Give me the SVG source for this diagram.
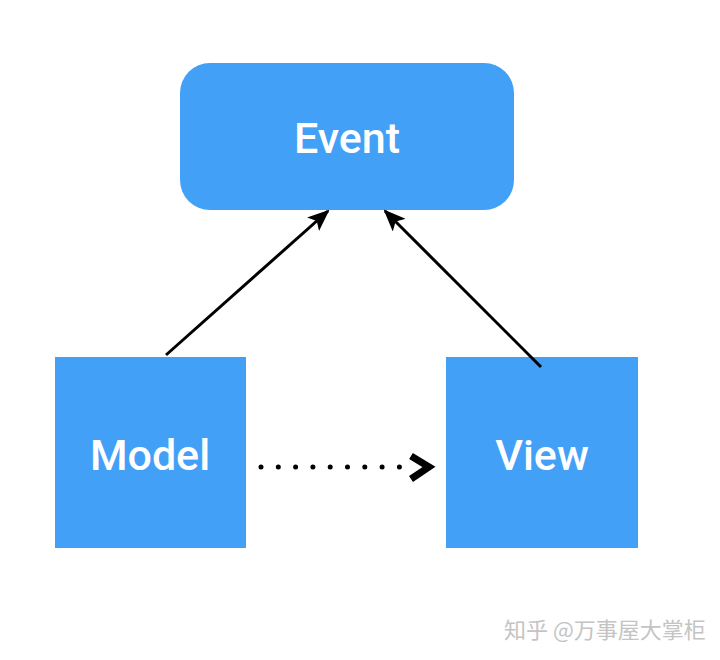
<svg xmlns="http://www.w3.org/2000/svg" width="720" height="660" viewBox="0 0 720 660">
<style>
.node{fill:#42a0f6}
.lbl{fill:#ffffff;font-family:Roboto,"Liberation Sans",Arial,sans-serif;font-weight:500;font-size:43px;text-anchor:middle}
.edge{stroke:#000;stroke-width:3;fill:none}
.wm{fill:#c4c4c4;font-family:"Noto Sans CJK SC",sans-serif;font-size:22px}
</style>
<defs>
<marker id="ah" markerWidth="22" markerHeight="18" refX="20" refY="9" orient="auto" markerUnits="userSpaceOnUse" viewBox="0 0 22 18">
<path d="M0,0 L22,9 L0,18 L5,9 Z" fill="#000"/>
</marker>
</defs>
<rect width="720" height="660" fill="#ffffff"/>
<g id="event"><rect class="node" x="180" y="63" width="334" height="147" rx="30"/><text class="lbl" x="347" y="153">Event</text></g>
<g id="model"><rect class="node" x="55" y="357" width="191" height="191"/><text class="lbl" x="150" y="470">Model</text></g>
<g id="view"><rect class="node" x="446" y="357" width="192" height="191"/><text class="lbl" x="542" y="470">View</text></g>
<g id="connectors">
<line class="edge" x1="166" y1="355" x2="328" y2="211" marker-end="url(#ah)"/>
<line class="edge" x1="541" y1="367" x2="385" y2="211" marker-end="url(#ah)"/>
<line x1="261" y1="467" x2="400" y2="467" stroke="#000" stroke-width="5" stroke-linecap="round" stroke-dasharray="0 17.3"/>
<path d="M411,456 L429,467 L411,479" stroke="#000" stroke-width="7" fill="none" stroke-linejoin="miter"/>
</g>
<text class="wm" x="504" y="638">知乎 @万事屋大掌柜</text>
</svg>
